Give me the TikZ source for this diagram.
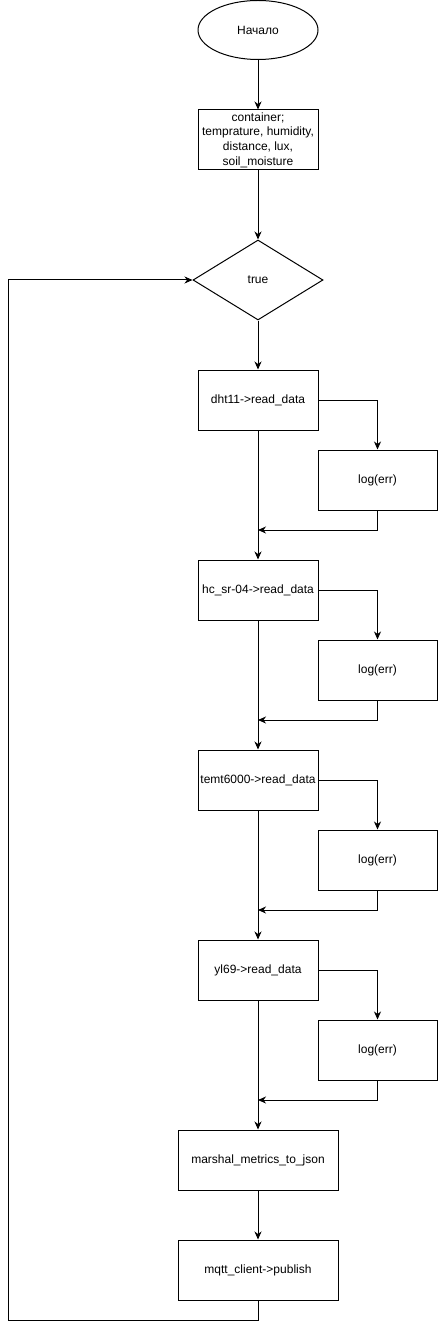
\documentclass[tikz,border=0pt]{standalone}
\usepackage{fontspec}
\setmainfont{Liberation Sans}
\usetikzlibrary{shapes.geometric,arrows.meta}
\tikzset{
  base/.style={draw=black, line width=1pt, inner sep=0pt, align=center, font=\fontsize{12}{14.6}\selectfont},
  procbox/.style={base, rectangle, minimum width=120pt, minimum height=60pt},
  widebox/.style={base, rectangle, minimum width=160pt, minimum height=60pt},
  logbox/.style={base, rectangle, minimum width=119pt, minimum height=60pt},
  startnode/.style={base, ellipse, minimum width=120pt, minimum height=59pt},
  decnode/.style={base, diamond, minimum width=130pt, minimum height=80pt},
  conn/.style={line width=1pt, draw=black},
  arr/.style={conn, -{Stealth[length=8pt,width=7pt,inset=2.5pt]}}
}
\begin{document}
\begin{tikzpicture}[x=1pt,y=-1pt]
\useasboundingbox (0,0) rectangle (438,1329);
\node[startnode] (start) at (258,30) {Начало};
\node[procbox] (init) at (258,140) {container;\\temprature, humidity,\\distance, lux,\\soil\_moisture};
\node[decnode] (dec) at (258,280) {true};
\node[procbox] (b1) at (258,400) {dht11->read\_data};
\node[logbox] (l1) at (377.5,480) {log(err)};
\coordinate (j1) at (258,530);
\node[procbox] (b2) at (258,590) {hc\_sr-04->read\_data};
\node[logbox] (l2) at (377.5,670) {log(err)};
\coordinate (j2) at (258,720);
\node[procbox] (b3) at (258,780) {temt6000->read\_data};
\node[logbox] (l3) at (377.5,860) {log(err)};
\coordinate (j3) at (258,910);
\node[procbox] (b4) at (258,970) {yl69->read\_data};
\node[logbox] (l4) at (377.5,1050) {log(err)};
\coordinate (j4) at (258,1100);
\node[widebox] (marsh) at (258,1160) {marshal\_metrics\_to\_json};
\node[widebox] (pub) at (258,1270) {mqtt\_client->publish};
\coordinate (lb) at (8,1320);
\coordinate (lt) at (8,280);

\draw[arr] (start) -- (init);
\draw[arr] (init) -- (dec);
\draw[arr] (dec) -- (b1);
\draw[arr] (b1.south) -- (b2.north);
\draw[arr] (b2.south) -- (b3.north);
\draw[arr] (b3.south) -- (b4.north);
\draw[arr] (b4.south) -- (marsh.north);
\draw[arr] (marsh) -- (pub);
\foreach \i in {1,2,3,4}{
  \draw[arr] (b\i.east) -| (l\i.north);
  \draw[arr] (l\i.south) |- (j\i);
}
\draw[conn] (pub.south) |- (lb) -- (lt);
\draw[arr] (lt) -- (dec.west);
\end{tikzpicture}
\end{document}
